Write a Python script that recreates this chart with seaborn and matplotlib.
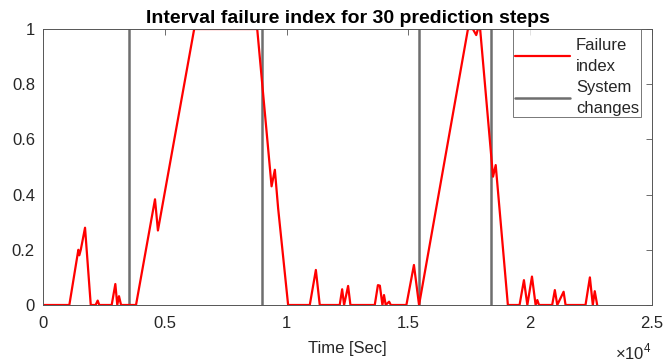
import numpy as np
import pandas as pd
import matplotlib
matplotlib.use("Agg")
import matplotlib.pyplot as plt
import seaborn as sns

# ---- data ----
time_sec = [0, 1070, 1440, 1480, 1540, 1715, 1950, 2150, 2235, 2300, 2810, 2960, 3040,
            3110, 3195, 3810, 4590, 4710, 6200, 8790, 9380, 9515, 9650, 10060, 10950,
            11200, 11360, 12180, 12280, 12360, 12525, 12620, 13620, 13750, 13830, 13935,
            14000, 14070, 14210, 14280, 14920, 15230, 15440, 17450, 17650, 17790, 17860,
            17950, 18480, 18590, 19090, 19570, 19750, 19890, 20080, 20230, 20300, 20370,
            20910, 21020, 21120, 21380, 21460, 22280, 22460, 22580, 22660, 22760]
failure_index = [0, 0, 0.2, 0.18, 0.2, 0.28, 0, 0, 0.016, 0, 0, 0.076, 0,
                 0.032, 0, 0, 0.383, 0.27, 1, 1, 0.43, 0.49, 0.35, 0, 0,
                 0.127, 0, 0, 0.057, 0, 0.069, 0, 0, 0.072, 0.07, 0,
                 0.036, 0, 0.012, 0, 0, 0.145, 0, 1, 1, 0.978, 1,
                 1, 0.465, 0.507, 0, 0, 0.09, 0, 0.103, 0, 0.018, 0,
                 0, 0.054, 0, 0.048, 0, 0, 0.1, 0, 0.05, 0]
system_changes = [3520, 9000, 15420, 18390]

x_ticks = [0, 5000, 10000, 15000, 20000, 25000]
x_tick_labels = ["0", "0.5", "1", "1.5", "2", "2.5"]
y_ticks = [0, 0.2, 0.4, 0.6, 0.8, 1.0]
y_tick_labels = ["0", "0.2", "0.4", "0.6", "0.8", "1"]

title = "Interval failure index for 30 prediction steps"
xlabel = "Time [Sec]"

# ---- plotting ----
sns.set_style("white")
plt.rcParams["font.family"] = ["Liberation Sans", "DejaVu Sans"]
plt.rcParams["mathtext.fontset"] = "custom"
plt.rcParams["mathtext.rm"] = "Liberation Sans"

text_color = "#262626"
fig = plt.figure(figsize=(6.65, 3.62), dpi=100)
ax = fig.add_axes([43.3 / 665, 1 - 305 / 362, (651.7 - 43.3) / 665, (305 - 29) / 362])

df = pd.DataFrame({"t": time_sec, "f": failure_index})
sns.lineplot(data=df, x="t", y="f", ax=ax, color="#ff0000", linewidth=1.6,
             label="Failure\nindex", estimator=None, sort=False)
for i, xc in enumerate(system_changes):
    ax.axvline(xc, color="#6e6e6e", linewidth=1.8,
               label="System\nchanges" if i == 0 else None, zorder=1)

ax.set_xlim(0, 25000)
ax.set_ylim(0, 1)
ax.set_xticks(x_ticks)
ax.set_xticklabels(x_tick_labels)
ax.set_yticks(y_ticks)
ax.set_yticklabels(y_tick_labels)
ax.tick_params(axis="both", direction="in", length=4, width=0.6, color="#555555",
               labelsize=12, labelcolor=text_color, top=True, right=True)
ax.tick_params(axis="x", pad=8)
ax.tick_params(axis="y", pad=6)
for s in ax.spines.values():
    s.set_color("#555555")
    s.set_linewidth(0.7)
    s.set_visible(True)

ax.set_xlabel(xlabel, fontsize=12, color=text_color, labelpad=7)
ax.set_ylabel("")
ax.set_title(title, fontsize=14, fontweight="bold", color="black", pad=4)
ax.text(1.0, -0.135, r"$\times10^{4}$", transform=ax.transAxes, ha="right", va="top",
        fontsize=12, color=text_color)

leg = ax.legend(loc="upper right", bbox_to_anchor=(0.982, 1.0), borderaxespad=0,
                fontsize=12, handlelength=3.3, handletextpad=0.35, frameon=True,
                fancybox=False, edgecolor="#555555", borderpad=0.1, labelspacing=0.4,
                title=" ", title_fontsize=1)
leg.get_frame().set_linewidth(0.7)
for t in leg.get_texts():
    t.set_color(text_color)
    t.set_linespacing(1.45)

fig.savefig("out.png", dpi=100)
